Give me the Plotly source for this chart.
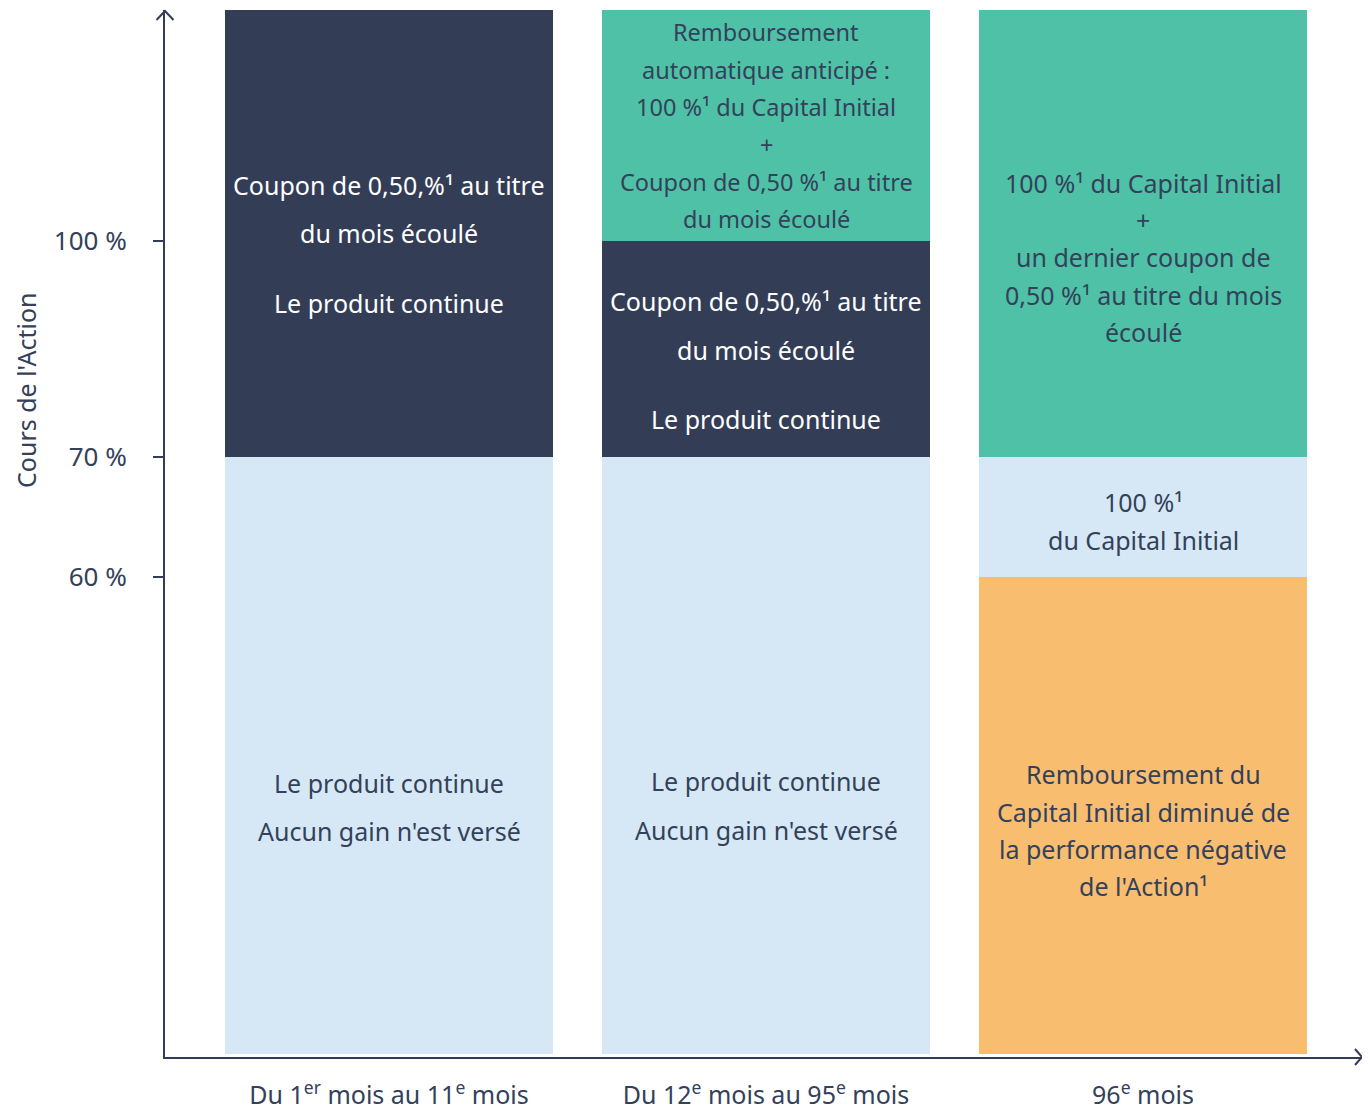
import plotly.graph_objects as go

# ---------------- data ----------------
categories = [
    "Du 1<sup>er</sup> mois au 11<sup>e</sup> mois",
    "Du 12<sup>e</sup> mois au 95<sup>e</sup> mois",
    "96<sup>e</sup> mois",
]
level_labels = ["60 %", "70 %", "100 %"]
# schematic (non-linear) position of each level on the drawn axis
level_pos = [48.0, 60.0, 81.6]
axis_floor = 0.3
axis_top = 104.7

NAVY = "#343d56"
TEAL = "#4fc1a7"
LIGHT = "#d6e8f5"
ORANGE = "#f8bd6f"
INK = "#33415a"

# segments per period: (lower bound, upper bound, colour)
seg_lower = [
    [axis_floor, level_pos[1]],
    [axis_floor, level_pos[1], level_pos[2]],
    [axis_floor, level_pos[0], level_pos[1]],
]
seg_upper = [
    [level_pos[1], axis_top],
    [level_pos[1], level_pos[2], axis_top],
    [level_pos[0], level_pos[1], axis_top],
]
seg_color = [
    [LIGHT, NAVY],
    [LIGHT, NAVY, TEAL],
    [ORANGE, LIGHT, TEAL],
]

# text lines inside the bars: (period index, text, schematic y, colour, size)
S = "¹"
bar_texts = [
    (0, f"Coupon de 0,50,%{S} au titre", 87.2, "white", 25),
    (0, "du mois écoulé", 82.4, "white", 25),
    (0, "Le produit continue", 75.4, "white", 25),
    (0, "Le produit continue", 27.4, INK, 25),
    (0, "Aucun gain n'est versé", 22.6, INK, 25),
    (1, "Remboursement", 102.5, INK, 23.5),
    (1, "automatique anticipé :", 98.7, INK, 23.5),
    (1, f"100 %{S} du Capital Initial", 95.0, INK, 23.5),
    (1, "+", 91.2, INK, 23.5),
    (1, f"Coupon de 0,50 %{S} au titre", 87.5, INK, 23.5),
    (1, "du mois écoulé", 83.8, INK, 23.5),
    (1, f"Coupon de 0,50,%{S} au titre", 75.6, "white", 25),
    (1, "du mois écoulé", 70.7, "white", 25),
    (1, "Le produit continue", 63.8, "white", 25),
    (1, "Le produit continue", 27.6, INK, 25),
    (1, "Aucun gain n'est versé", 22.7, INK, 25),
    (2, f"100 %{S} du Capital Initial", 87.4, INK, 25),
    (2, "+", 83.7, INK, 25),
    (2, "un dernier coupon de", 80.0, INK, 25),
    (2, f"0,50 %{S} au titre du mois", 76.2, INK, 25),
    (2, "écoulé", 72.5, INK, 25),
    (2, f"100 %{S}", 55.5, INK, 25),
    (2, "du Capital Initial", 51.7, INK, 25),
    (2, "Remboursement du", 28.3, INK, 25),
    (2, "Capital Initial diminué de", 24.5, INK, 25),
    (2, "la performance négative", 20.8, INK, 25),
    (2, f"de l'Action{S}", 17.1, INK, 25),
]

FONT = "Noto Sans"

# ---------------- figure ----------------
fig = go.Figure()
for i in range(len(categories)):
    for lo, hi, col in zip(seg_lower[i], seg_upper[i], seg_color[i]):
        fig.add_trace(go.Bar(
            x=[i], y=[hi - lo], base=[lo], width=0.87,
            marker=dict(color=col, line=dict(width=0)),
            showlegend=False, hoverinfo="skip",
        ))

for i, txt, yv, col, size in bar_texts:
    fig.add_annotation(x=i, y=yv, xref="x", yref="y", text=txt, showarrow=False,
                       xanchor="center", yanchor="middle",
                       font=dict(family=FONT, size=size, color=col))

# page geometry (the page body adds an 8 px offset)
OFF = 8
W, H = 1370 - OFF, 1110 - OFF
ML, MR, MT, MB = 165 - OFF, 7, 10 - OFF, 53
PW, PH = W - ML - MR, H - MT - MB


def px(x, y):
    """page pixel -> paper coordinates"""
    x, y = x - OFF, y - OFF
    return (x - ML) / PW, (H - MB - y) / PH


def chevron(p1, tip, p2):
    a, b, c = px(*p1), px(*tip), px(*p2)
    return f"M {a[0]},{a[1]} L {b[0]},{b[1]} L {c[0]},{c[1]}"


fig.add_shape(type="path", xref="paper", yref="paper",
              path=chevron((156.5, 20), (165, 11), (173.5, 20)),
              line=dict(color=NAVY, width=2))
fig.add_shape(type="path", xref="paper", yref="paper",
              path=chevron((1355, 1049), (1362, 1057), (1355, 1065)),
              line=dict(color=NAVY, width=2))

tx, ty = px(26, 390)
fig.add_annotation(x=tx, y=ty, xref="paper", yref="paper", text="Cours de l'Action",
                   textangle=-90, showarrow=False, xanchor="center", yanchor="middle",
                   font=dict(family=FONT, size=25, color=INK))

fig.update_layout(
    width=W, height=H,
    margin=dict(l=ML, r=MR, t=MT, b=MB, pad=0, autoexpand=False),
    paper_bgcolor="white", plot_bgcolor="white",
    barmode="overlay", bargap=0,
    font=dict(family=FONT, color=INK),
    xaxis=dict(
        range=[(165 - 389) / 377, (1363 - 389) / 377],
        tickmode="array", tickvals=list(range(len(categories))), ticktext=categories,
        showgrid=False, zeroline=False, showline=True, linecolor=NAVY, linewidth=2,
        ticks="", ticklabelstandoff=15, automargin=False,
        tickfont=dict(family=FONT, size=25, color=INK),
    ),
    yaxis=dict(
        range=[0, axis_top], tickmode="array", tickvals=level_pos, ticktext=level_labels,
        showgrid=False, zeroline=False, showline=True, linecolor=NAVY, linewidth=2,
        ticks="outside", ticklen=10, tickwidth=2, tickcolor=NAVY,
        ticklabelstandoff=21, automargin=False,
        tickfont=dict(family=FONT, size=26, color=INK),
    ),
)

fig.write_html("out.html")
